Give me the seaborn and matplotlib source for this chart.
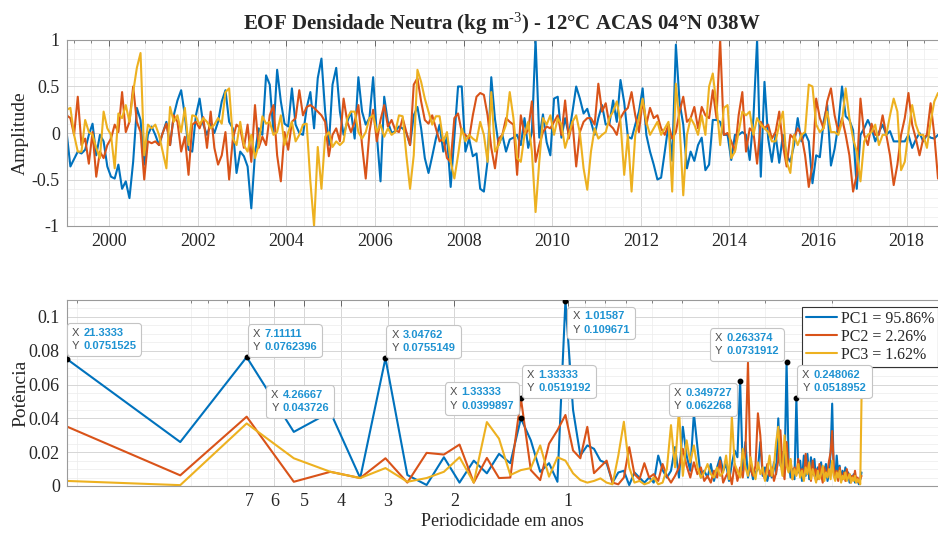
import numpy as np
import pandas as pd
import matplotlib
matplotlib.use('Agg')
import matplotlib.pyplot as plt
import seaborn as sns
from matplotlib.ticker import MultipleLocator, FixedLocator, FixedFormatter, LogLocator, NullFormatter
from matplotlib.offsetbox import TextArea, HPacker, AnnotationBbox

# ---------------- data: principal components (monthly, Jan 1999 - Sep 2018) ----------------
pc1 = [0.00, -0.36, -0.28, -0.20, -0.22, -0.18, -0.02, 0.10, -0.24, -0.02, -0.09, -0.36,
       -0.47, -0.49, -0.34, -0.60, -0.52, -0.70, -0.31, 0.27, 0.14, -0.34, -0.02, 0.07,
       -0.02, -0.13, 0.00, 0.12, -0.13, 0.19, 0.35, 0.46, 0.19, -0.18, -0.20, 0.19,
       0.37, 0.09, -0.02, 0.10, 0.00, 0.12, 0.34, 0.46, 0.12, 0.05, -0.43, -0.20,
       -0.25, -0.36, -0.81, -0.22, 0.05, -0.02, 0.62, 0.52, 0.01, 0.68, 0.34, 0.10,
       0.07, 0.48, 0.09, 0.00, -0.02, 0.27, 0.44, 0.05, 0.59, 0.80, 0.23, -0.13,
       0.52, 0.70, 0.23, -0.02, 0.12, 0.23, -0.06, 0.60, 0.23, 0.09, 0.16, 0.60,
       -0.02, -0.52, 0.39, 0.12, 0.00, 0.02, 0.07, 0.05, 0.00, -0.13, 0.19, 0.28,
       0.05, -0.27, -0.43, -0.25, -0.06, 0.09, -0.20, -0.04, -0.58, -0.04, 0.50, 0.50,
       -0.20, -0.06, -0.25, -0.22, -0.60, -0.63, -0.30, 0.60, 0.15, -0.13, -0.02, -0.20,
       -0.07, -0.05, -0.02, -0.13, 0.16, -0.16, 0.01, 1.00, -0.05, 0.20, -0.10, -0.24,
       0.37, 0.39, -0.05, 0.16, -0.02, 0.23, 0.50, 0.37, 0.21, 0.26, 0.12, -0.02,
       0.16, 0.30, 0.09, 0.10, 0.35, 0.12, 0.57, 0.33, -0.04, -0.06, 0.09, 0.23,
       0.48, -0.02, -0.20, -0.34, -0.50, -0.48, -0.20, 0.09, -0.30, 0.95, 0.33, 0.09,
       -0.38, -0.20, -0.30, -0.13, -0.05, -0.40, -0.34, 0.14, 0.14, 0.12, -0.02, -0.02,
       -0.29, -0.02, -0.02, 0.01, -0.02, -0.29, 0.16, 1.00, -0.47, 0.55, -0.06, -0.31,
       -0.02, -0.32, -0.02, -0.24, -0.31, -0.13, 0.16, -0.09, 0.00, -0.09, -0.54, -0.24,
       -0.26, 0.12, 0.30, -0.35, -0.17, 0.09, 0.50, 0.18, 0.14, 0.03, -0.60, -0.02,
       0.05, 0.14, 0.05, -0.09, 0.01, 0.09, -0.02, 0.02, -0.09, -0.09, -0.09, -0.09,
       -0.02, -0.16, -0.07, 0.00, -0.09, -0.02, -0.05, -0.06, -0.02]

pc2 = [0.19, 0.16, -0.02, 0.39, -0.13, -0.06, -0.33, 0.01, -0.47, -0.20, -0.27, -0.13,
       -0.06, 0.09, 0.01, 0.44, 0.01, 0.12, 0.50, 0.12, 0.01, -0.50, -0.09, -0.11,
       -0.09, -0.13, 0.00, 0.10, -0.13, 0.19, 0.12, -0.20, -0.04, -0.45, 0.09, 0.12,
       0.05, 0.17, -0.16, 0.23, -0.16, -0.34, -0.24, 0.01, -0.50, -0.06, 0.09, 0.05,
       -0.16, 0.09, -0.31, 0.30, -0.16, -0.04, -0.13, 0.19, 0.30, -0.24, -0.52, 0.01,
       -0.18, 0.12, 0.16, 0.46, 0.19, 0.28, 0.30, 0.27, 0.23, 0.19, 0.12, -0.25,
       -0.02, 0.05, -0.09, 0.37, 0.12, 0.01, 0.12, 0.30, -0.13, -0.49, 0.01, 0.25,
       -0.09, 0.14, 0.30, 0.07, 0.14, 0.03, 0.01, 0.16, 0.01, -0.13, 0.52, 0.59,
       0.34, 0.14, 0.10, 0.19, 0.05, -0.09, -0.06, -0.27, -0.31, 0.16, 0.21, 0.01,
       -0.02, -0.06, 0.19, 0.39, 0.43, 0.41, 0.19, -0.16, -0.38, -0.06, -0.02, 0.16,
       0.12, 0.09, -0.45, 0.19, -0.02, 0.03, 0.34, -0.31, -0.13, 0.01, 0.07, 0.05,
       0.12, 0.19, -0.02, 0.35, -0.06, 0.12, -0.36, 0.01, 0.12, 0.16, 0.16, 0.09,
       0.53, 0.23, 0.32, 0.09, 0.05, -0.02, 0.16, 0.23, 0.27, 0.44, 0.19, 0.01,
       0.35, 0.09, 0.27, 0.16, 0.19, 0.05, -0.02, 0.09, -0.06, 0.01, 0.23, 0.39,
       0.12, 0.16, 0.28, 0.05, 0.28, 0.19, 0.16, 0.46, 0.16, 1.00, -0.02, 0.00,
       -0.09, -0.20, 0.19, 0.44, -0.20, 0.05, 0.01, -0.33, 0.12, 0.05, 0.09, -0.06,
       0.01, 0.23, -0.13, -0.36, -0.02, -0.06, 0.05, -0.02, -0.24, -0.58, -0.34, 0.37,
       0.16, 0.05, 0.34, 0.48, 0.19, 0.01, 0.16, -0.02, -0.24, -0.63, -0.45, 0.37,
       -0.02, -0.13, 0.10, -0.02, -0.02, 0.19, -0.02, -0.24, -0.56, -0.34, -0.02, 0.16,
       0.43, 0.09, -0.06, -0.24, -0.06, -0.02, 0.32, -0.02, -0.49]

pc3 = [0.25, 0.27, -0.02, -0.20, -0.20, 0.14, 0.01, -0.02, -0.16, -0.27, 0.23, 0.05,
       -0.02, -0.38, 0.21, 0.16, 0.30, 0.12, 0.44, 0.70, 0.86, -0.24, 0.09, 0.05,
       0.09, -0.02, -0.20, -0.38, 0.28, 0.12, 0.19, 0.01, 0.27, -0.13, 0.19, 0.18,
       0.09, 0.16, 0.12, 0.05, 0.09, 0.16, 0.10, 0.44, 0.48, -0.06, -0.13, 0.12,
       -0.13, -0.20, -0.02, -0.27, -0.13, 0.18, 0.10, 0.12, -0.02, 0.01, 0.19, -0.13,
       0.01, 0.12, -0.09, -0.02, 0.09, 0.10, -0.52, -1.00, -0.15, -0.60, -0.04, 0.01,
       -0.15, -0.09, -0.13, -0.09, 0.16, 0.23, 0.23, 0.01, -0.06, 0.01, 0.16, 0.19,
       0.01, 0.09, -0.04, 0.05, -0.02, 0.01, 0.19, 0.18, -0.24, -0.60, -0.24, 0.68,
       0.55, 0.37, 0.23, 0.09, 0.18, 0.18, -0.09, 0.01, -0.31, -0.49, -0.24, 0.05,
       -0.09, -0.02, -0.06, -0.09, 0.12, -0.02, -0.31, 0.44, -0.20, -0.13, -0.02, 0.09,
       0.44, 0.16, -0.27, -0.31, -0.02, 0.12, -0.20, -0.85, -0.31, 0.16, 0.09, 0.19,
       -0.02, 0.16, 0.09, -0.16, -0.02, 0.12, 0.19, 0.00, -0.38, -0.61, -0.20, 0.05,
       -0.06, -0.02, 0.01, 0.16, 0.23, 0.34, 0.12, -0.45, -0.02, -0.63, -0.02, 0.16,
       0.37, 0.12, -0.02, 0.05, 0.12, -0.02, 0.05, 0.12, -0.63, 0.53, 0.09, -0.67,
       -0.02, 0.16, 0.09, -0.02, 0.19, -0.02, 0.50, 0.64, 0.30, -0.13, 0.27, 0.30,
       -0.27, -0.20, 0.01, 0.23, 0.19, 0.23, -0.02, 0.16, 0.09, 0.05, 0.01, -0.09,
       -0.09, 0.09, 0.23, -0.31, -0.43, -0.02, -0.13, -0.02, 0.01, 0.52, 0.50, 0.09,
       0.01, 0.05, 0.23, 0.01, 0.01, -0.02, 0.12, 0.48, 0.16, -0.06, -0.20, -0.52,
       -0.09, -0.02, 0.01, 0.09, -0.13, -0.02, -0.02, 0.19, 0.37, 0.23, -0.40, -0.31,
       0.01, 0.30, 0.09, -0.02, -0.02, -0.16, 0.12, 0.34, 0.43]

months = np.arange(len(pc1))
time_years = 1999 + (months + 0.5) / 12  # mid-month decimal years

# ---------------- data: power spectrum (fft with 256 points, monthly sampling) ----------------
nfft = 256
k_bins = np.arange(1, 129)
periods = nfft / (12 * k_bins)  # period in years of each frequency bin

pow1 = [0.0751525, 0.026, 0.0762396, 0.032, 0.043726, 0.0047, 0.0755149, 0.0065, 0.0006, 0.017, 0.002, 0.015, 0.0075, 0.019, 0.0135, 0.0399897,
        0.027, 0.0084, 0.0135, 0.0025, 0.109671, 0.045, 0.018, 0.024, 0.022, 0.015, 0.0135, 0.002, 0.008, 0.009, 0.0005, 0.008,
        0.005, 0.002, 0.005, 0.002, 0.018, 0.0094, 0.005, 0.009, 0.023, 0.005, 0.035, 0.018, 0.009, 0.043, 0.023, 0.005,
        0.009, 0.005, 0.013, 0.003, 0.011, 0.017, 0.009, 0.013, 0.003, 0.013, 0.021, 0.017, 0.062268, 0.009, 0.026, 0.005,
        0.012, 0.004, 0.008, 0.010, 0.026, 0.006, 0.011, 0.003, 0.009, 0.005, 0.014, 0.007, 0.040, 0.012, 0.020, 0.009,
        0.0731912, 0.015, 0.005, 0.010, 0.004, 0.0518952, 0.008, 0.015, 0.003, 0.018, 0.006, 0.019, 0.004, 0.017, 0.007, 0.016,
        0.003, 0.011, 0.006, 0.014, 0.004, 0.009, 0.013, 0.003, 0.008, 0.020, 0.0487, 0.010, 0.004, 0.018, 0.007, 0.012,
        0.003, 0.009, 0.005, 0.011, 0.004, 0.008, 0.002, 0.006, 0.004, 0.007, 0.002, 0.005, 0.003, 0.001, 0.004, 0.008]

pow2 = [0.0352, 0.0063, 0.041, 0.0025, 0.0084, 0.0047, 0.0164, 0.002, 0.0196, 0.0186, 0.0245, 0.002, 0.0166, 0.0047, 0.005, 0.0519192,
        0.0094, 0.0035, 0.025, 0.033, 0.042, 0.021, 0.0164, 0.035, 0.0076, 0.0114, 0.015, 0.002, 0.001, 0.005, 0.023, 0.007,
        0.004, 0.0135, 0.005, 0.007, 0.003, 0.013, 0.006, 0.002, 0.006, 0.011, 0.022, 0.012, 0.005, 0.014, 0.007, 0.011,
        0.003, 0.006, 0.002, 0.009, 0.005, 0.015, 0.002, 0.006, 0.009, 0.001, 0.013, 0.003, 0.011, 0.005, 0.020, 0.073,
        0.010, 0.006, 0.012, 0.043, 0.030, 0.008, 0.004, 0.013, 0.006, 0.011, 0.003, 0.008, 0.015, 0.033, 0.012, 0.004,
        0.026, 0.010, 0.015, 0.004, 0.011, 0.007, 0.016, 0.006, 0.010, 0.004, 0.019, 0.008, 0.012, 0.003, 0.015, 0.006,
        0.010, 0.004, 0.013, 0.007, 0.002, 0.011, 0.006, 0.009, 0.015, 0.020, 0.0325, 0.012, 0.005, 0.009, 0.003, 0.011,
        0.006, 0.004, 0.008, 0.003, 0.010, 0.005, 0.007, 0.002, 0.006, 0.004, 0.009, 0.003, 0.005, 0.002, 0.004, 0.006]

pow3 = [0.003, 0.0005, 0.037, 0.0164, 0.0084, 0.0047, 0.0106, 0.0025, 0.0047, 0.0084, 0.017, 0.002, 0.0378, 0.028, 0.0065, 0.0094,
        0.0106, 0.024, 0.0055, 0.017, 0.015, 0.0075, 0.0035, 0.002, 0.003, 0.0045, 0.002, 0.001, 0.018, 0.038, 0.011, 0.002,
        0.003, 0.001, 0.002, 0.005, 0.001, 0.002, 0.010, 0.036, 0.011, 0.045, 0.006, 0.027, 0.014, 0.024, 0.011, 0.005,
        0.008, 0.013, 0.007, 0.005, 0.011, 0.006, 0.008, 0.018, 0.004, 0.041, 0.013, 0.009, 0.005, 0.022, 0.011, 0.006,
        0.017, 0.009, 0.004, 0.014, 0.007, 0.011, 0.003, 0.009, 0.018, 0.006, 0.012, 0.026, 0.035, 0.014, 0.006, 0.030,
        0.012, 0.008, 0.016, 0.004, 0.010, 0.006, 0.013, 0.005, 0.009, 0.003, 0.011, 0.007, 0.014, 0.004, 0.010, 0.006,
        0.002, 0.009, 0.004, 0.007, 0.012, 0.003, 0.008, 0.005, 0.010, 0.004, 0.015, 0.006, 0.003, 0.008, 0.005, 0.009,
        0.002, 0.006, 0.004, 0.008, 0.003, 0.005, 0.007, 0.002, 0.005, 0.003, 0.006, 0.002, 0.004, 0.003, 0.001, 0.052]

pc_labels = ['PC1 = 95.86%', 'PC2 = 2.26%', 'PC3 = 1.62%']
colors = ['#0072BD', '#D95319', '#EDB120']

period_ticks = [7, 6, 5, 4, 3, 2, 1]

# data tips: (series index, bin k, box alignment, gap in pixels (dx, dy up))
tips = [(0, 1, (0, 0), (0, 3)),
        (0, 3, (0, 0), (1, 0)),
        (0, 5, (1, 0), (4, -6)),
        (0, 7, (0, 0), (1, 0)),
        (0, 16, (1, 0), (-2, 3)),
        (1, 16, (0, 0), (1, 0)),
        (0, 21, (0, 1), (2, -6)),
        (0, 61, (1, 1), (-3, -2)),
        (0, 81, (1, 0), (-3, 1)),
        (0, 86, (0, 0), (1, 0))]

# ---------------- style ----------------
sns.set_style('white')
plt.rcParams['font.family'] = ['Liberation Serif', 'DejaVu Serif']
plt.rcParams['mathtext.fontset'] = 'custom'
plt.rcParams['mathtext.rm'] = 'Liberation Serif'
plt.rcParams['mathtext.bf'] = 'Liberation Serif:bold'
plt.rcParams['mathtext.default'] = 'bf'

W, H = 938, 537
fig = plt.figure(figsize=(W / 100, H / 100), dpi=100)
left = 66.7 / W
width = (W - 66.7) / W
ax1 = fig.add_axes([left, 1 - 226 / H, width, 186 / H])
ax2 = fig.add_axes([left, 1 - 486 / H, width, 186 / H])


def style_axes(ax):
    for side, spine in ax.spines.items():
        spine.set_color('#9a9a9a')
        spine.set_linewidth(0.8)
    ax.spines['right'].set_visible(False)
    ax.tick_params(which='both', direction='in', top=True, right=False,
                   color='#555555', labelcolor='#262626', labelsize=13)
    ax.tick_params(which='major', length=4, width=0.6, pad=5)
    ax.tick_params(which='minor', length=2, width=0.5)
    ax.grid(which='major', color='#d6d6d6', linewidth=0.7)
    ax.grid(which='minor', color='#ececec', linewidth=0.5)
    ax.set_axisbelow(True)


# ---------------- top: time series ----------------
ts = pd.DataFrame({
    't': np.tile(time_years, 3),
    'amp': np.concatenate([pc1, pc2, pc3]),
    'pc': np.repeat(pc_labels, len(pc1)),
})
sns.lineplot(data=ts, x='t', y='amp', hue='pc', palette=colors, linewidth=1.5,
             legend=False, ax=ax1, estimator=None)
ax1.set_xlim(time_years[0], time_years[-1])
ax1.set_ylim(-1, 1)
ax1.xaxis.set_major_locator(MultipleLocator(2))
ax1.xaxis.set_minor_locator(MultipleLocator(0.4))
ax1.yaxis.set_major_locator(FixedLocator([-1, -0.5, 0, 0.5, 1]))
ax1.yaxis.set_major_formatter(FixedFormatter(['-1', '-0.5', '0', '0.5', '1']))
ax1.yaxis.set_minor_locator(MultipleLocator(0.1))
ax1.set_xlabel('')
ax1.set_ylabel('Amplitude', fontsize=14)
ax1.yaxis.set_label_coords(-0.043, 0.5)
style_axes(ax1)
ax1.set_title(r'EOF Densidade Neutra (kg m$^{\text{-3}}$) - 12°C ACAS 04°N 038W',
              fontsize=15, fontweight='bold', pad=7)

# ---------------- bottom: periodogram ----------------
spec = pd.DataFrame({
    'period': np.tile(periods, 3),
    'power': np.concatenate([pow1, pow2, pow3]),
    'pc': np.repeat(pc_labels, len(periods)),
})
sns.lineplot(data=spec, x='period', y='power', hue='pc', palette=colors, linewidth=1.5,
             ax=ax2, estimator=None)
ax2.set_xscale('log')
ax2.set_xlim(periods[0], 0.1045)
ax2.set_ylim(0, 0.11)
ax2.xaxis.set_major_locator(FixedLocator(period_ticks))
ax2.xaxis.set_major_formatter(FixedFormatter([str(p) for p in period_ticks]))
ax2.xaxis.set_minor_locator(LogLocator(base=10, subs=np.arange(1, 10)))
ax2.xaxis.set_minor_formatter(NullFormatter())
ax2.yaxis.set_major_locator(FixedLocator([0, 0.02, 0.04, 0.06, 0.08, 0.1]))
ax2.yaxis.set_major_formatter(FixedFormatter(['0', '0.02', '0.04', '0.06', '0.08', '0.1']))
ax2.yaxis.set_minor_locator(MultipleLocator(0.005))
ax2.set_xlabel('Periodicidade em anos', fontsize=13)
ax2.xaxis.set_label_coords(0.5, -0.145)
ax2.set_ylabel('Potência', fontsize=14)
ax2.yaxis.set_label_coords(-0.043, 0.5)
style_axes(ax2)

handles, _ = ax2.get_legend_handles_labels()
leg = ax2.legend(handles, pc_labels, loc='upper right', bbox_to_anchor=(1.0, 1 - 7 / 186),
                 borderaxespad=0, fontsize=11.5, frameon=True, fancybox=False,
                 framealpha=1, edgecolor='#333333', handlelength=1.9,
                 handletextpad=0.25, labelspacing=0.12, borderpad=0.25)
leg.get_frame().set_linewidth(0.8)

# data tips
box_pad = 0.35         # frame padding in units of the 10 pt mutation scale
pad_px = box_pad * 10 / 0.72
powers = [pow1, pow2, pow3]
tip_font = dict(fontsize=8, family='Liberation Sans', linespacing=1.4)
for s, k, align, (dx, dy) in tips:
    xv = periods[k - 1]
    yv = powers[s][k - 1]
    ax2.plot([xv], [yv], 'o', color='black', markersize=3.2, zorder=6)
    lab = TextArea('X\nY', textprops=dict(color='#4d4d4d', **tip_font))
    val = TextArea(f'{xv:.6g}\n{yv:.6g}',
                   textprops=dict(color='#1f93d2', fontweight='bold', **tip_font))
    pack = HPacker(children=[lab, val], align='center', pad=0, sep=3)
    ox = dx + pad_px * (1 - 2 * align[0])
    oy = dy + pad_px * (1 - 2 * align[1])
    ab = AnnotationBbox(pack, (xv, yv), xybox=(ox * 0.72, oy * 0.72), xycoords='data',
                        boxcoords='offset points', box_alignment=align, frameon=True,
                        pad=0, zorder=7,
                        bboxprops=dict(boxstyle=f'round,pad={box_pad},rounding_size=0.25',
                                       fc='white', ec='#c4c4c4', lw=0.8))
    ax2.add_artist(ab)

fig.savefig('out.png', dpi=100)
